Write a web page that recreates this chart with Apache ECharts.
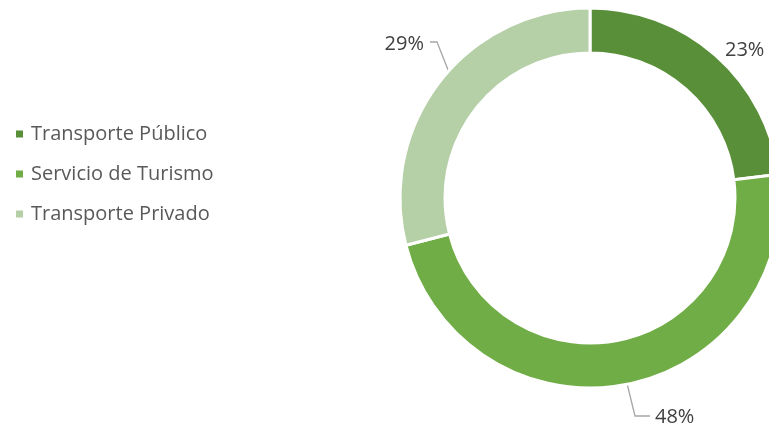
<!DOCTYPE html>
<html>
<head>
<meta charset="utf-8">
<script src="https://cdn.jsdelivr.net/npm/echarts@6/dist/echarts.min.js"></script>
<style>
  html, body { margin: 0; padding: 0; background: #fff; }
  #chart { width: 769px; height: 427px; }
</style>
</head>
<body>
<div id="chart"></div>
<script>
const categories = ["Transporte Público", "Servicio de Turismo", "Transporte Privado"];
const shares = [23, 48, 29];
const colors = ["#5a8f3a", "#70ad47", "#b5cfa7"];

// where Excel put each percentage label and its leader line
const labelSpots = [
  { x: 725, y: 50, align: "left", line: null },
  { x: 655, y: 417, align: "left", line: [[622, 363], [635, 416], [650, 416]] },
  { x: 424, y: 44, align: "right", line: [[458, 95], [437, 42], [430, 42]] },
];

const chart = echarts.init(document.getElementById("chart"));
chart.setOption({
  animation: false,
  color: colors,
  legend: {
    orient: "vertical",
    left: 14,
    top: 124,
    padding: 0,
    icon: "rect",
    itemWidth: 9,
    itemHeight: 9,
    itemGap: 20,
    selectedMode: false,
    textStyle: { fontFamily: "Open Sans", fontSize: 20, color: "#595959", padding: [0, 0, 0, 2] },
    data: categories,
  },
  series: [
    {
      type: "pie",
      center: [590, 198],
      radius: [145, 190],
      startAngle: 90,
      clockwise: true,
      itemStyle: { borderColor: "#fff", borderWidth: 3 },
      label: {
        show: true,
        formatter: "{c}%",
        fontFamily: "Open Sans",
        fontSize: 20,
        color: "#404040",
        overflow: "none",
      },
      labelLine: { show: true, lineStyle: { color: "#a6a6a6", width: 1.3 } },
      labelLayout: (params) => {
        const s = labelSpots[params.dataIndex];
        const out = { x: s.x, y: s.y, align: s.align, verticalAlign: "middle" };
        if (s.line) out.labelLinePoints = s.line;
        return out;
      },
      data: categories.map((name, i) => ({
        name,
        value: shares[i],
        labelLine: { show: i !== 0 },
      })),
    },
  ],
});
</script>
</body>
</html>
